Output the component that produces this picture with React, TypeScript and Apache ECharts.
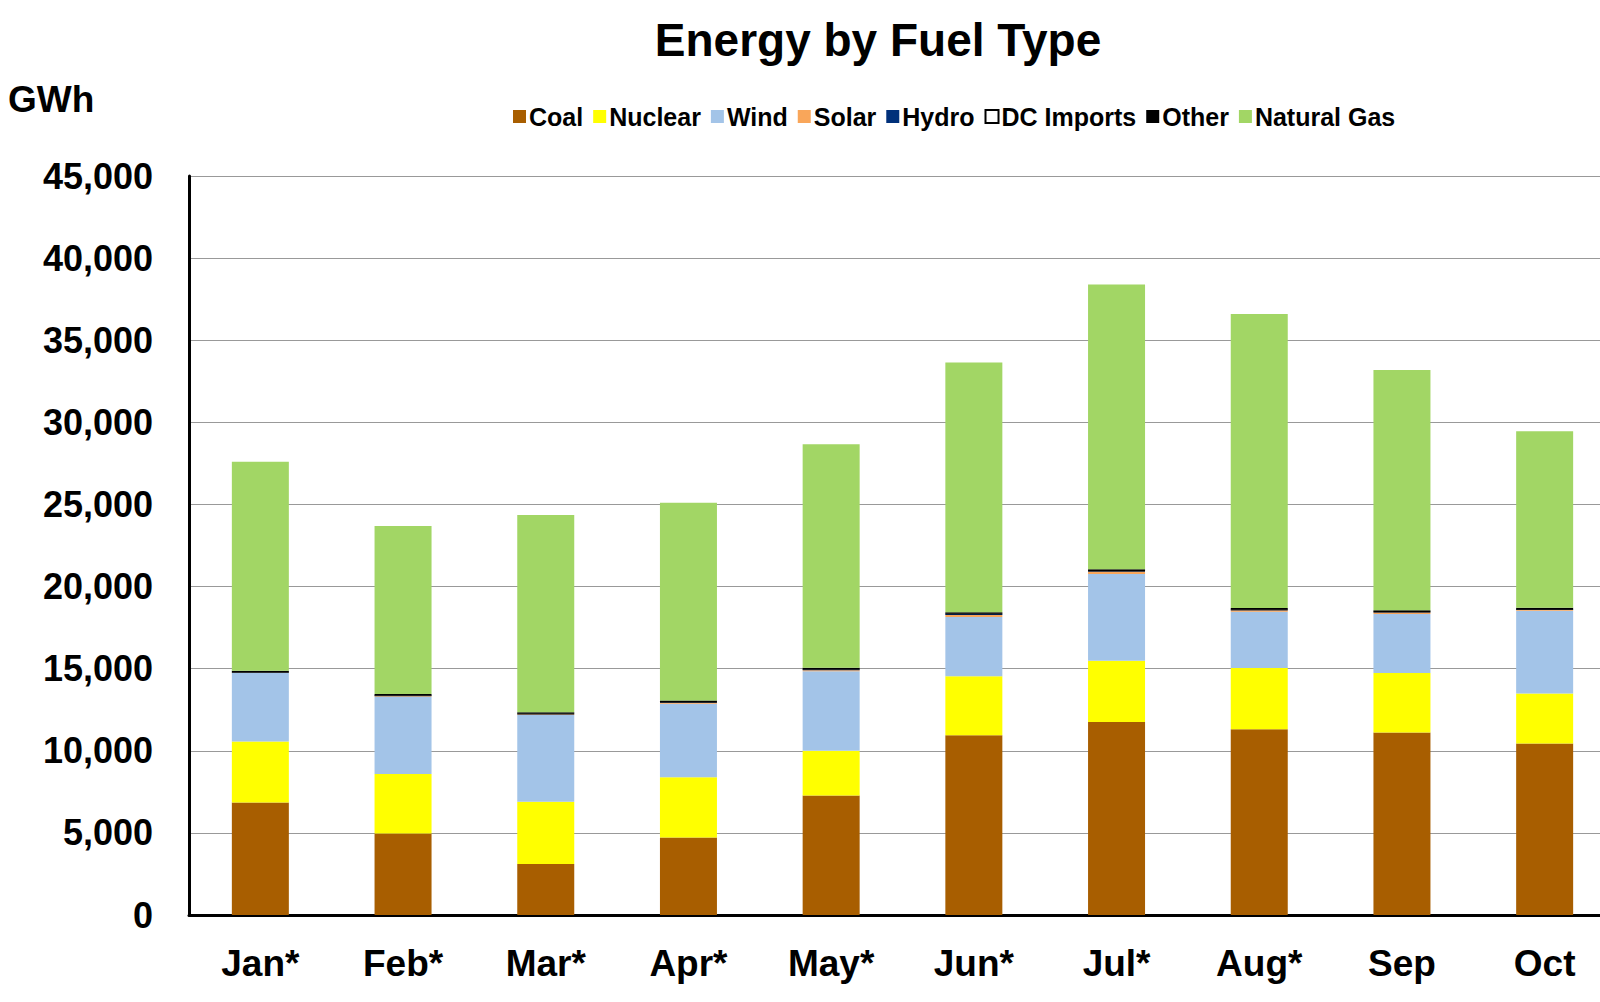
import React, { useEffect, useRef } from "react";
import * as echarts from "echarts";

const months = ["Jan*", "Feb*", "Mar*", "Apr*", "May*", "Jun*", "Jul*", "Aug*", "Sep", "Oct"];
const coal = [6850, 4970, 3100, 4720, 7270, 10940, 11750, 11310, 11120, 10440];
const nuclear = [3720, 3610, 3800, 3670, 2730, 3600, 3730, 3730, 3610, 3050];
const wind = [4160, 4720, 5280, 4480, 4850, 3610, 5280, 3420, 3600, 5030];
const solar = [20, 30, 40, 50, 60, 120, 150, 100, 90, 60];
const hydro = [20, 20, 20, 30, 40, 60, 30, 20, 20, 20];
const dcImports = [10, 10, 10, 10, 10, 10, 10, 10, 10, 10];
const other = [100, 90, 100, 100, 100, 100, 100, 100, 100, 100];
const gas = [12720, 10230, 12010, 12040, 13600, 15210, 17350, 17910, 14640, 10750];

const seriesDefs: [string, number[], string][] = [
  ["Coal", coal, "#A85E00"],
  ["Nuclear", nuclear, "#FFFF00"],
  ["Wind", wind, "#A3C4E8"],
  ["Solar", solar, "#F9A65A"],
  ["Hydro", hydro, "#00307A"],
  ["DC Imports", dcImports, "#FFFFFF"],
  ["Other", other, "#000000"],
  ["Natural Gas", gas, "#A2D665"],
];

const FONT = "Liberation Sans, Arial, sans-serif";

export default function App() {
  const ref = useRef<HTMLDivElement>(null);
  useEffect(() => {
    const chart = echarts.init(ref.current!, null, { renderer: "svg" });
    chart.setOption({
      animation: false,
      textStyle: { fontFamily: FONT },
      title: {
        text: "Energy by Fuel Type",
        left: 873,
        top: 12,
        textAlign: "center",
        textStyle: { fontSize: 46, fontWeight: "bold", color: "#000" },
      },
      graphic: [
        {
          type: "text",
          left: 8,
          top: 81,
          style: { text: "GWh", font: "bold 37px " + FONT, fill: "#000" },
        },
      ],
      legend: {
        top: 99,
        left: 508,
        itemWidth: 13,
        itemHeight: 13,
        itemGap: 10,
        icon: "rect",
        textStyle: { fontSize: 25, fontWeight: "bold", color: "#000", padding: [0, 0, 0, -2] },
        data: seriesDefs.map((s) => s[0]),
      },
      grid: { left: 189, right: 4, top: 176, bottom: 87 },
      xAxis: {
        type: "category",
        data: months,
        axisLine: { lineStyle: { color: "#000", width: 3 } },
        axisTick: { show: false },
        axisLabel: { fontSize: 37, fontWeight: "bold", color: "#000", margin: 30 },
      },
      yAxis: {
        type: "value",
        min: 0,
        max: 45000,
        interval: 5000,
        axisLine: { show: true, lineStyle: { color: "#000", width: 3 } },
        axisTick: { show: false },
        axisLabel: {
          fontSize: 36,
          fontWeight: "bold",
          color: "#000",
          margin: 36,
          formatter: (v: number) => v.toLocaleString("en-US"),
        },
        splitLine: { lineStyle: { color: "#999", width: 1 } },
      },
      series: seriesDefs.map(([name, data, color]) => ({
        name,
        type: "bar",
        stack: "total",
        barWidth: 57,
        data,
        itemStyle: {
          color,
          borderColor: name === "DC Imports" ? "#000" : undefined,
          borderWidth: name === "DC Imports" ? 0.5 : 0,
        },
      })),
    });
    return () => chart.dispose();
  }, []);
  return (
    <div style={{ position: "absolute", left: 0, top: 0, width: 1600, height: 1002, overflow: "hidden" }}>
      <div ref={ref} style={{ width: 1620, height: 1002 }} />
    </div>
  );
}
